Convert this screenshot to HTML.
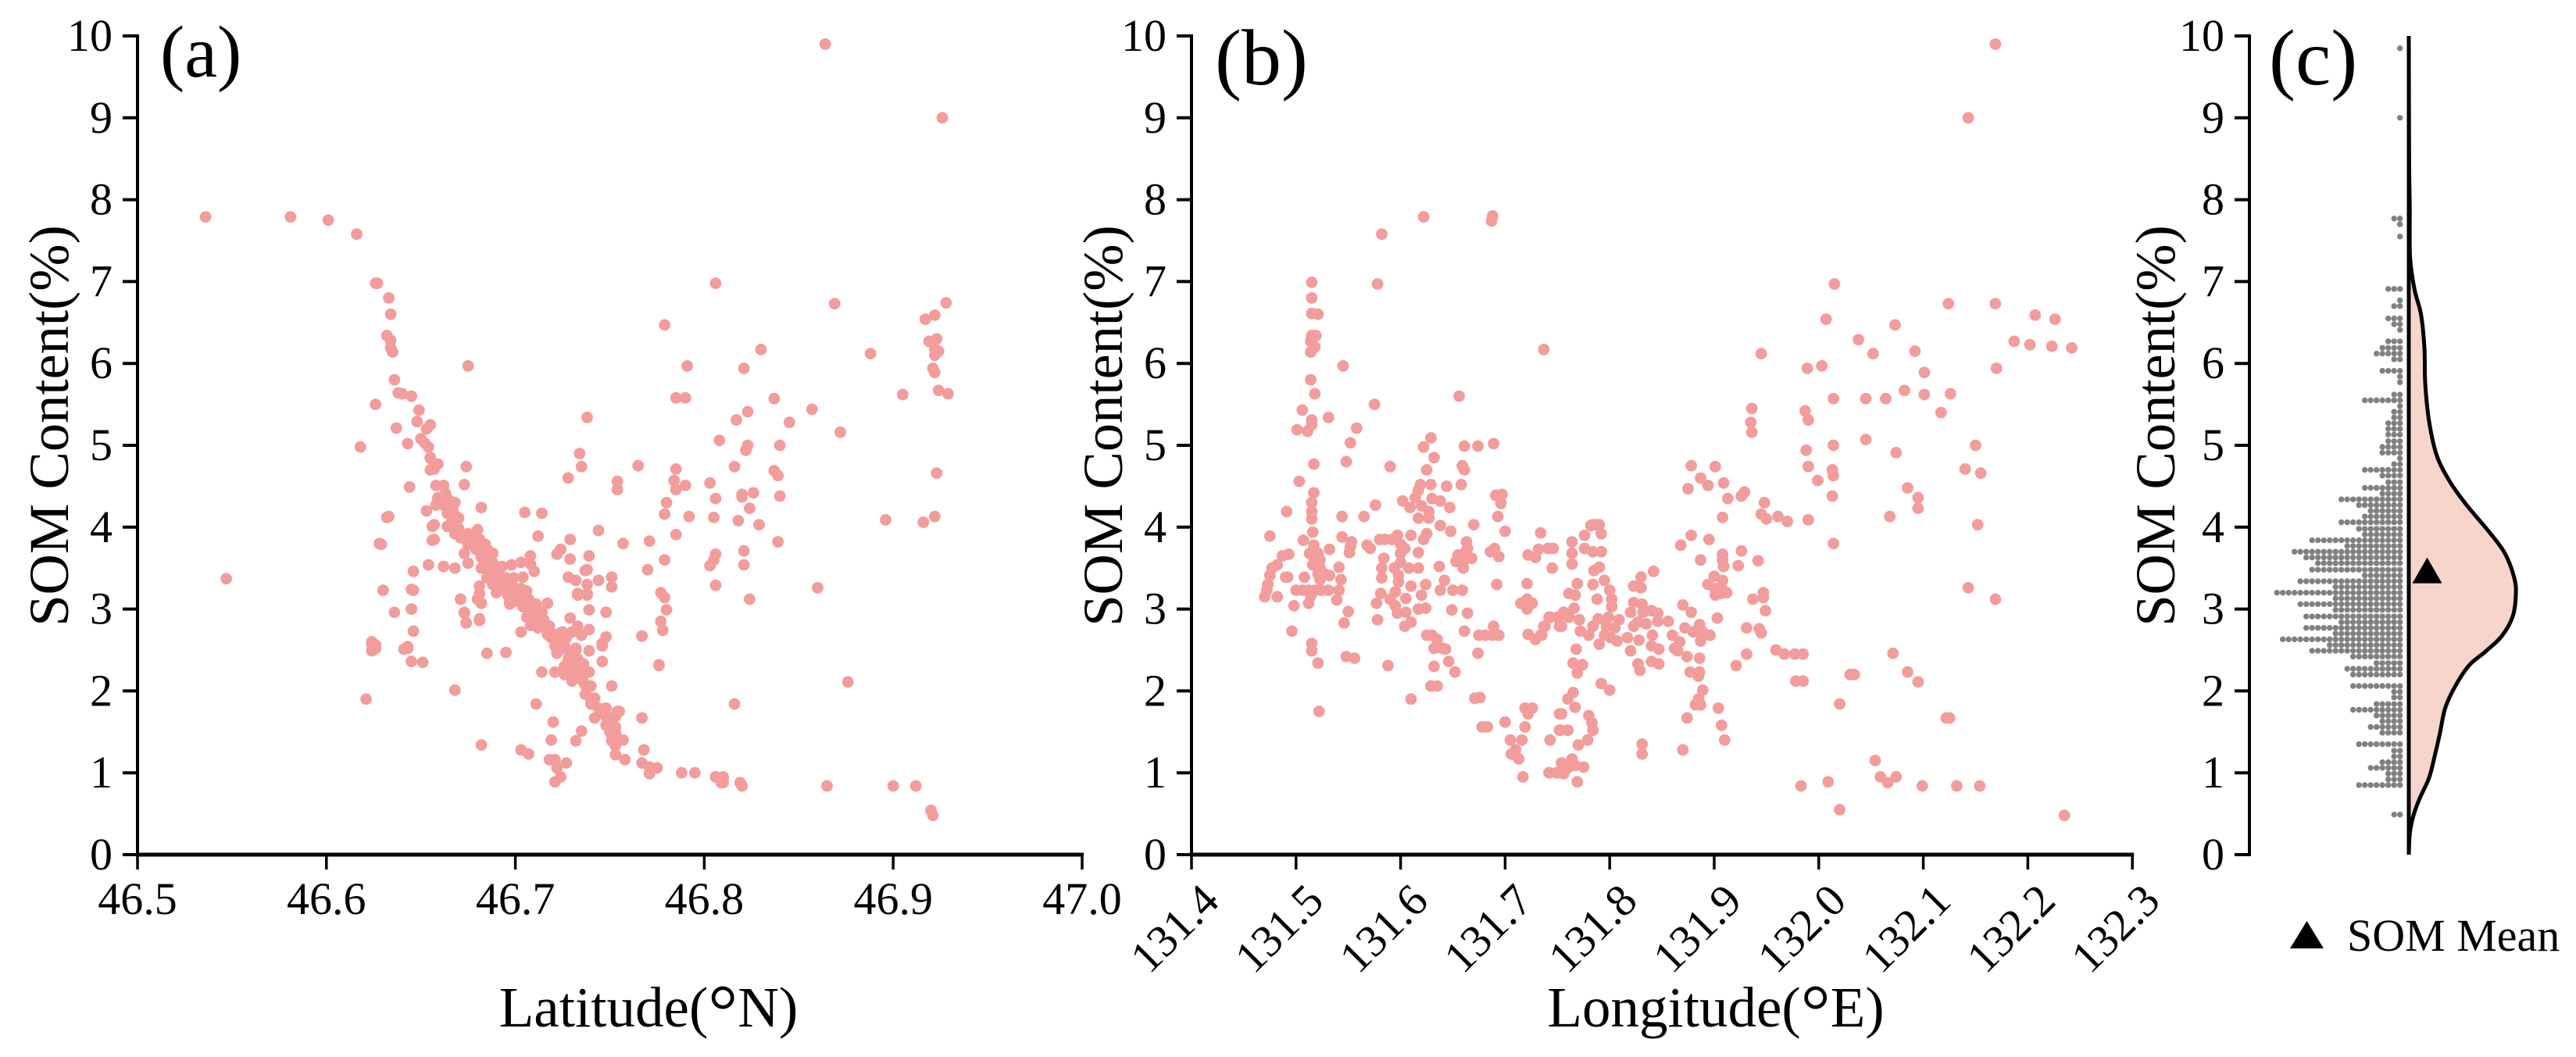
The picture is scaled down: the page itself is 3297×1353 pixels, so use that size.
<!DOCTYPE html>
<html lang="en">
<head>
<meta charset="utf-8">
<title>SOM Content vs Latitude and Longitude</title>
<style>
html,body{margin:0;padding:0;background:#fff;}
svg{display:block;}
text{font-family:"Liberation Serif","Times New Roman",serif;fill:#000;}
</style>
</head>
<body>
<svg id="chart" xmlns="http://www.w3.org/2000/svg" width="3297" height="1353" viewBox="0 0 3297 1353">
<rect width="3297" height="1353" fill="#ffffff"/>
</svg>
<script>
const somTicks = [0,1,2,3,4,5,6,7,8,9,10];
const latTicks = [46.5,46.6,46.7,46.8,46.9,47.0];
const lonTicks = [131.4,131.5,131.6,131.7,131.8,131.9,132.0,132.1,132.2,132.3];
const latSomPoints = [[46.864,9.9],[46.926,9],[46.536,7.79],[46.581,7.79],[46.601,7.75],[46.616,7.58],[46.626,6.98],[46.627,6.98],[46.633,6.8],[46.634,6.6],[46.632,6.34],[46.634,6.28],[46.634,6.19],[46.635,6.14],[46.636,5.8],[46.638,5.64],[46.64,5.63],[46.645,5.6],[46.626,5.5],[46.649,5.43],[46.648,5.29],[46.655,5.25],[46.637,5.21],[46.653,5.2],[46.65,5.08],[46.643,5.02],[46.652,5.03],[46.654,4.98],[46.618,4.98],[46.675,5.97],[46.655,4.85],[46.659,4.77],[46.674,4.74],[46.657,4.71],[46.655,4.7],[46.644,4.49],[46.658,4.51],[46.662,4.51],[46.673,4.52],[46.682,4.24],[46.653,4.2],[46.633,4.13],[46.657,4.03],[46.655,4.84],[46.663,4.41],[46.659,4.36],[46.658,4.27],[46.662,4.27],[46.665,4.33],[46.668,4.3],[46.664,4.17],[46.669,4.125],[46.667,4.08],[46.656,4.01],[46.632,4.12],[46.664,4.01],[46.68,3.97],[46.67,3.98],[46.668,3.92],[46.675,3.92],[46.671,3.87],[46.677,3.87],[46.681,3.855],[46.656,3.84],[46.629,3.79],[46.675,3.79],[46.682,3.76],[46.679,3.73],[46.685,3.73],[46.688,3.68],[46.673,3.68],[46.682,3.63],[46.686,3.6],[46.675,3.56],[46.698,3.54],[46.703,3.57],[46.708,3.65],[46.708,3.55],[46.693,3.52],[46.654,3.54],[46.662,3.52],[46.668,3.5],[46.682,3.5],[46.688,3.5],[46.71,3.46],[46.704,3.39],[46.646,3.46],[46.691,3.44],[46.685,3.38],[46.695,3.38],[46.699,3.38],[46.681,3.28],[46.688,3.3],[46.693,3.28],[46.697,3.25],[46.703,3.25],[46.706,3.22],[46.646,3.23],[46.63,3.23],[46.681,3.19],[46.69,3.2],[46.696,3.17],[46.701,3.155],[46.707,3.12],[46.671,3.12],[46.68,3.12],[46.682,3.07],[46.699,3.09],[46.717,3.07],[46.711,3.06],[46.697,3.06],[46.704,3.03],[46.739,2.99],[46.645,3],[46.636,2.96],[46.708,2.96],[46.714,2.96],[46.673,2.95],[46.729,2.89],[46.748,2.96],[46.706,2.9],[46.711,2.87],[46.681,2.86],[46.674,2.83],[46.708,2.8],[46.714,2.82],[46.718,2.79],[46.733,2.79],[46.646,2.73],[46.703,2.72],[46.725,2.72],[46.73,2.72],[46.739,2.75],[46.735,2.68],[46.717,2.69],[46.748,2.66],[46.722,2.63],[46.727,2.65],[46.721,2.55],[46.726,2.55],[46.732,2.52],[46.739,2.49],[46.746,2.55],[46.642,2.52],[46.643,2.54],[46.626,2.56],[46.626,2.52],[46.685,2.46],[46.695,2.47],[46.722,2.49],[46.729,2.47],[46.734,4.9],[46.735,4.74],[46.728,4.6],[46.744,3.96],[46.729,3.85],[46.712,3.89],[46.705,4.18],[46.714,4.17],[46.724,3.73],[46.722,3.67],[46.729,3.61],[46.739,3.65],[46.737,3.47],[46.744,3.35],[46.728,3.39],[46.732,3.35],[46.738,3.3],[46.733,3.19],[46.738,3.19],[46.746,2.58],[46.746,2.36],[46.716,2.77],[46.719,2.68],[46.724,2.71],[46.725,2.61],[46.722,2.46],[46.726,2.52],[46.732,2.5],[46.728,2.39],[46.733,2.39],[46.736,2.33],[46.726,2.3],[46.731,2.3],[46.739,2.23],[46.721,2.23],[46.714,2.23],[46.726,2.2],[46.73,2.12],[46.735,2.17],[46.737,2.07],[46.74,2.06],[46.737,1.96],[46.742,1.91],[46.74,1.84],[46.748,1.79],[46.751,2.06],[46.755,1.75],[46.711,1.84],[46.742,1.67],[46.747,1.72],[46.753,1.69],[46.767,1.67],[46.748,1.58],[46.753,1.56],[46.75,1.5],[46.753,1.49],[46.72,1.62],[46.735,1.51],[46.732,1.39],[46.719,1.4],[46.751,1.39],[46.757,1.4],[46.753,1.33],[46.753,1.22],[46.758,1.16],[46.768,1.28],[46.703,1.28],[46.707,1.23],[46.718,1.16],[46.721,1.16],[46.727,1.12],[46.722,1.06],[46.767,1.12],[46.771,1.07],[46.775,1.06],[46.771,0.99],[46.724,0.95],[46.721,0.89],[46.788,1],[46.795,1],[46.806,0.95],[46.81,0.95],[46.809,0.88],[46.82,0.84],[46.819,0.88],[46.779,3.14],[46.78,2.99],[46.777,2.85],[46.778,2.74],[46.767,2.67],[46.776,2.31],[46.733,3.17],[46.738,3.17],[46.806,6.98],[46.779,6.47],[46.869,6.73],[46.928,6.74],[46.917,6.54],[46.922,6.59],[46.923,6.3],[46.919,6.27],[46.922,6.18],[46.924,6.15],[46.922,6.1],[46.888,6.12],[46.83,6.17],[46.791,5.97],[46.821,5.94],[46.921,5.94],[46.922,5.89],[46.785,5.58],[46.79,5.58],[46.837,5.57],[46.905,5.62],[46.924,5.67],[46.929,5.63],[46.857,5.44],[46.823,5.41],[46.817,5.31],[46.738,5.34],[46.845,5.28],[46.872,5.16],[46.808,5.06],[46.823,5],[46.84,5],[46.822,4.94],[46.816,4.74],[46.923,4.66],[46.837,4.69],[46.839,4.63],[46.803,4.54],[46.785,4.71],[46.765,4.75],[46.754,4.56],[46.754,4.46],[46.784,4.57],[46.785,4.46],[46.79,4.51],[46.84,4.38],[46.826,4.42],[46.82,4.4],[46.82,4.37],[46.806,4.35],[46.78,4.3],[46.779,4.16],[46.824,4.23],[46.792,4.13],[46.805,4.12],[46.818,4.08],[46.829,4.03],[46.896,4.09],[46.916,4.06],[46.922,4.13],[46.785,3.91],[46.771,3.83],[46.757,3.8],[46.839,3.82],[46.821,3.71],[46.806,3.67],[46.805,3.6],[46.803,3.53],[46.821,3.54],[46.779,3.6],[46.77,3.48],[46.738,3.48],[46.751,3.39],[46.751,3.27],[46.806,3.29],[46.86,3.26],[46.824,3.12],[46.777,3.2],[46.767,2.67],[46.876,2.11],[46.816,1.84],[46.776,2.32],[46.754,1.75],[46.768,1.28],[46.682,1.34],[46.621,1.9],[46.668,2.01],[46.547,3.37],[46.628,3.8],[46.657,3.85],[46.645,3.24],[46.645,3],[46.671,3.12],[46.673,2.96],[46.681,2.88],[46.624,2.6],[46.624,2.57],[46.624,2.49],[46.641,2.51],[46.643,2.52],[46.645,2.36],[46.651,2.35],[46.865,0.84],[46.9,0.84],[46.912,0.84],[46.92,0.54],[46.921,0.48],[46.806,0.95],[46.81,0.94],[46.81,0.88],[46.659,4.33],[46.662,4.36],[46.664,4.27],[46.667,4.2],[46.67,4.11],[46.666,4.05],[46.668,3.95],[46.673,3.89],[46.677,3.89],[46.68,3.79],[46.684,3.79],[46.681,3.7],[46.685,3.66],[46.684,3.57],[46.688,3.57],[46.686,3.44],[46.69,3.35],[46.693,3.38],[46.696,3.31],[46.7,3.25],[46.695,3.22],[46.699,3.15],[46.703,3.12],[46.708,3.03],[46.707,2.93],[46.71,2.87],[46.715,2.87],[46.712,2.77],[46.719,2.71],[46.724,2.65],[46.725,2.52],[46.722,2.46],[46.697,3.09],[46.704,3.03],[46.71,3],[46.707,2.9],[46.713,2.87],[46.711,2.81],[46.719,2.65],[46.724,2.61],[46.722,2.49],[46.729,2.33],[46.728,2.23],[46.735,2.3],[46.732,2.2],[46.736,2.11],[46.74,1.91],[46.744,1.79],[46.748,1.69],[46.751,1.6],[46.751,1.47],[46.754,1.41]];
const lonSomPoints = [[132.169,9.9],[132.143,9],[131.622,7.79],[131.688,7.8],[131.687,7.74],[131.582,7.58],[131.578,6.97],[131.515,6.99],[131.515,6.8],[131.515,6.61],[131.521,6.6],[132.015,6.97],[132.124,6.73],[132.169,6.73],[132.207,6.59],[132.226,6.54],[132.007,6.54],[132.073,6.47],[132.038,6.29],[132.187,6.27],[132.202,6.23],[132.223,6.21],[132.242,6.19],[132.052,6.12],[132.092,6.15],[131.945,6.12],[131.737,6.17],[131.515,6.34],[131.519,6.34],[131.514,6.27],[131.518,6.2],[131.514,6.14],[131.545,5.97],[131.989,5.94],[132.003,5.97],[132.17,5.94],[132.101,5.89],[131.514,5.8],[131.518,5.63],[131.656,5.6],[131.575,5.5],[132.014,5.57],[132.045,5.57],[132.064,5.57],[132.082,5.67],[132.101,5.62],[132.126,5.63],[132.117,5.4],[131.506,5.43],[131.531,5.34],[131.515,5.31],[131.515,5.25],[131.501,5.19],[131.511,5.17],[131.558,5.21],[131.552,5.03],[131.622,4.98],[131.629,5.09],[131.661,4.99],[131.674,4.99],[131.689,5.02],[131.936,5.45],[131.935,5.28],[131.936,5.16],[131.987,5.42],[131.99,5.31],[132.045,5.07],[132.014,5],[131.988,4.94],[132.074,4.91],[132.15,5],[131.632,4.85],[131.548,4.8],[131.517,4.77],[131.59,4.74],[131.659,4.75],[131.661,4.7],[131.625,4.7],[131.878,4.75],[131.901,4.74],[131.99,4.74],[132.013,4.7],[132.014,4.63],[132.14,4.71],[132.155,4.66],[131.887,4.6],[131.909,4.54],[131.894,4.51],[131.999,4.57],[131.875,4.47],[131.503,4.56],[131.629,4.52],[131.619,4.52],[131.644,4.5],[131.658,4.52],[132.085,4.48],[131.929,4.43],[131.926,4.38],[132.013,4.38],[131.913,4.35],[132.095,4.36],[132.095,4.23],[131.517,4.42],[131.617,4.45],[131.614,4.36],[131.691,4.39],[131.697,4.4],[131.696,4.29],[131.602,4.32],[131.63,4.35],[131.638,4.32],[131.515,4.3],[131.515,4.19],[131.515,4.1],[131.609,4.24],[131.62,4.26],[131.647,4.24],[131.576,4.27],[131.627,4.19],[131.491,4.19],[131.544,4.13],[131.565,4.13],[131.693,4.13],[132.068,4.13],[131.948,4.3],[131.945,4.16],[131.95,4.1],[131.961,4.13],[131.97,4.07],[131.99,4.09],[131.908,4.12],[132.152,4.03],[131.617,4.11],[131.627,4.11],[131.784,4.03],[131.79,4.03],[131.67,4.03],[131.638,4.02],[131.7,3.95],[131.648,3.95],[131.516,3.94],[131.475,3.89],[131.507,3.84],[131.544,3.88],[131.553,3.82],[131.551,3.69],[131.552,3.76],[131.517,3.78],[131.532,3.73],[131.568,3.78],[131.571,3.74],[131.58,3.85],[131.585,3.85],[131.592,3.85],[131.597,3.9],[131.6,3.79],[131.604,3.74],[131.6,3.68],[131.61,3.9],[131.622,3.85],[131.625,3.92],[131.617,3.69],[131.663,3.82],[131.664,3.74],[131.655,3.66],[131.661,3.68],[131.668,3.62],[131.653,3.58],[131.66,3.58],[131.66,3.5],[131.69,3.74],[131.686,3.7],[131.694,3.64],[131.734,3.93],[131.722,3.66],[131.729,3.63],[131.732,3.73],[131.741,3.74],[131.746,3.74],[131.745,3.5],[131.493,3.67],[131.487,3.65],[131.482,3.54],[131.477,3.5],[131.475,3.41],[131.473,3.3],[131.472,3.23],[131.47,3.15],[131.482,3.15],[131.49,3.39],[131.492,3.39],[131.513,3.68],[131.521,3.68],[131.517,3.62],[131.523,3.6],[131.516,3.54],[131.523,3.5],[131.521,3.43],[131.527,3.43],[131.532,3.41],[131.523,3.36],[131.508,3.39],[131.541,3.51],[131.543,3.36],[131.5,3.23],[131.506,3.23],[131.512,3.23],[131.518,3.23],[131.524,3.23],[131.531,3.23],[131.541,3.23],[131.514,3.16],[131.512,3.07],[131.539,3.11],[131.498,3.04],[131.55,2.97],[131.546,2.83],[131.496,2.73],[131.515,2.58],[131.515,2.49],[131.521,2.34],[131.548,2.42],[131.556,2.4],[131.588,2.31],[131.522,1.75],[131.584,3.62],[131.582,3.5],[131.582,3.38],[131.6,3.57],[131.594,3.5],[131.608,3.5],[131.617,3.5],[131.598,3.41],[131.598,3.33],[131.637,3.52],[131.61,3.28],[131.624,3.3],[131.62,3.17],[131.642,3.35],[131.638,3.23],[131.65,3.23],[131.659,3.23],[131.692,3.3],[131.721,3.31],[131.715,3.07],[131.721,3.12],[131.726,3.07],[131.721,3],[131.581,3.19],[131.577,3.07],[131.595,3.21],[131.59,3.12],[131.595,3.04],[131.605,3.13],[131.597,2.95],[131.605,2.96],[131.617,3],[131.624,3.01],[131.649,2.99],[131.664,2.95],[131.578,2.87],[131.604,2.79],[131.61,2.84],[131.625,2.68],[131.63,2.68],[131.635,2.63],[131.632,2.52],[131.64,2.52],[131.643,2.51],[131.646,2.36],[131.632,2.3],[131.652,2.23],[131.629,2.06],[131.635,2.06],[131.61,1.9],[131.661,2.73],[131.675,2.68],[131.681,2.68],[131.688,2.68],[131.694,2.68],[131.689,2.79],[131.674,2.46],[131.671,1.91],[131.676,1.92],[131.722,2.69],[131.729,2.63],[131.735,2.68],[131.737,2.79],[131.742,2.9],[131.751,2.9],[131.752,2.79],[131.719,1.79],[131.726,1.79],[131.722,1.72],[131.7,1.62],[131.678,1.56],[131.683,1.56],[131.719,1.56],[131.705,1.4],[131.716,1.4],[131.743,1.4],[131.752,1.52],[131.752,1.72],[131.71,1.28],[131.706,1.23],[131.713,1.17],[131.717,0.95],[131.742,1],[131.75,1],[131.754,1.12],[132.014,3.8],[131.878,3.9],[131.868,3.78],[131.895,3.85],[131.887,3.6],[131.908,3.67],[131.908,3.6],[131.909,3.52],[131.926,3.71],[131.923,3.53],[131.942,3.59],[131.842,3.46],[131.83,3.39],[131.823,3.28],[131.83,3.26],[131.9,3.4],[131.894,3.3],[131.908,3.35],[131.901,3.25],[131.907,3.25],[131.912,3.2],[131.901,3.17],[131.906,3.19],[131.947,3.2],[131.947,3.14],[131.937,3.12],[131.949,2.98],[131.931,2.77],[131.943,2.76],[131.945,2.71],[131.903,2.89],[131.87,3.05],[131.878,2.96],[131.872,2.77],[131.886,2.81],[131.88,2.72],[131.889,2.72],[131.896,2.68],[131.887,2.61],[131.86,2.68],[131.867,2.6],[131.862,2.52],[131.865,2.49],[131.874,2.42],[131.886,2.4],[131.931,2.45],[131.921,2.31],[131.959,2.5],[131.967,2.45],[131.977,2.45],[131.985,2.45],[131.877,2.23],[131.886,2.23],[131.885,2.18],[131.978,2.12],[131.985,2.12],[131.889,2.01],[131.885,1.9],[131.882,1.83],[131.887,1.83],[131.904,1.79],[132.02,1.84],[131.874,1.67],[131.907,1.58],[131.91,1.4],[132.03,2.2],[132.034,2.2],[131.831,1.35],[131.831,1.23],[131.87,1.28],[131.983,0.84],[132.009,0.89],[132.02,0.55],[131.782,4.02],[131.787,4.03],[131.776,3.9],[131.792,3.92],[131.764,3.82],[131.764,3.68],[131.764,3.55],[131.776,3.74],[131.784,3.7],[131.792,3.7],[131.785,3.47],[131.79,3.51],[131.769,3.31],[131.784,3.3],[131.795,3.35],[131.8,3.23],[131.761,3.19],[131.767,3.17],[131.788,3.12],[131.802,3.12],[131.802,3.03],[131.766,3.01],[131.756,2.96],[131.761,2.9],[131.75,2.9],[131.743,2.9],[131.754,2.79],[131.771,2.87],[131.738,2.79],[131.734,2.68],[131.729,2.63],[131.772,2.73],[131.78,2.68],[131.784,2.79],[131.789,2.88],[131.799,2.9],[131.809,2.87],[131.797,2.79],[131.805,2.77],[131.795,2.68],[131.801,2.65],[131.79,2.57],[131.807,2.61],[131.817,2.65],[131.823,2.79],[131.82,2.96],[131.823,3.08],[131.831,3.06],[131.832,2.96],[131.84,2.98],[131.846,2.95],[131.827,2.84],[131.835,2.82],[131.846,2.85],[131.856,2.85],[131.828,2.62],[131.841,2.68],[131.84,2.55],[131.847,2.51],[131.82,2.49],[131.827,2.33],[131.829,2.25],[131.84,2.36],[131.847,2.33],[131.768,2.51],[131.765,2.34],[131.774,2.32],[131.769,2.22],[131.792,2.09],[131.8,2.01],[131.765,1.98],[131.76,1.9],[131.767,1.8],[131.754,1.72],[131.78,1.7],[131.783,1.61],[131.784,1.52],[131.753,1.52],[131.76,1.52],[131.779,1.4],[131.77,1.34],[131.754,1.12],[131.764,1.17],[131.767,1.09],[131.775,1.07],[131.76,1.06],[131.742,1],[131.749,1],[131.756,0.99],[131.769,0.89],[132.143,3.26],[132.169,3.12],[132.071,2.46],[132.085,2.23],[132.095,2.11],[132.125,1.67],[132.122,1.67],[132.054,1.15],[132.059,0.95],[132.074,0.95],[132.066,0.88],[132.099,0.84],[132.132,0.84],[132.154,0.84],[132.235,0.48]];
const dotRows = [[0.49,2],[0.85,8],[0.92,3],[0.99,3],[1.06,6],[1.13,4],[1.2,2],[1.27,2],[1.35,8],[1.49,4],[1.56,6],[1.63,4],[1.7,5],[1.77,9],[1.84,5],[1.92,2],[1.99,2],[2.06,9],[2.2,9],[2.27,10],[2.34,5],[2.42,9],[2.49,16],[2.56,13],[2.63,21],[2.7,12],[2.77,17],[2.84,11],[2.91,17],[2.99,12],[3.06,18],[3.13,12],[3.2,22],[3.27,12],[3.34,18],[3.41,7],[3.48,16],[3.56,15],[3.63,17],[3.7,19],[3.77,10],[3.84,16],[3.91,7],[3.98,8],[4.06,11],[4.13,7],[4.2,6],[4.27,8],[4.34,11],[4.41,4],[4.48,7],[4.55,3],[4.63,4],[4.7,7],[4.77,2],[4.84,1],[4.91,4],[4.98,4],[5.05,3],[5.13,3],[5.2,3],[5.27,3],[5.34,2],[5.41,2],[5.48,1],[5.55,7],[5.62,2],[5.77,1],[5.84,1],[5.91,4],[6.05,2],[6.12,5],[6.19,4],[6.27,3],[6.41,1],[6.48,2],[6.55,3],[6.7,2],[6.77,1],[6.91,3],[7.55,1],[7.7,1],[7.77,2],[9,1],[9.85,1]];
const densityCurve = [[0,0],[0.25,0.003],[0.46,0.0135],[0.68,0.034],[0.94,0.065],[1.24,0.085],[1.49,0.1],[1.79,0.1165],[2.05,0.1475],[2.31,0.1925],[2.48,0.245],[2.67,0.2975],[2.91,0.3325],[3.17,0.3425],[3.38,0.3375],[3.68,0.3075],[3.94,0.2575],[4.27,0.185],[4.55,0.1325],[4.87,0.09],[5.29,0.065],[5.76,0.0525],[6.19,0.05],[6.6,0.039],[6.9,0.0185],[7.3,0.004],[7.9,0.003],[8.5,0.001],[10,0]];
const somMean = 3.41;

const svg = document.getElementById('chart');
const NS = 'http://www.w3.org/2000/svg';
function mk(tag, attrs, parent) {
  const el = document.createElementNS(NS, tag);
  for (const k in attrs) el.setAttribute(k, attrs[k]);
  (parent || svg).appendChild(el);
  return el;
}
function yScale(v) { return 1094 - v * 104.8; }
function latScale(v) { return 176 + (v - 46.5) * 2418; }
function lonScale(v) { return 1525 + (v - 131.4) * 1338; }
function densityScale(d) { return 3083 + d * 400; }
const DOT = '#f29c9c';

function drawYAxis(group, axisX) {
  const line = mk('line', {x1: axisX, x2: axisX, y1: yScale(10) - 2, y2: yScale(0) + 2, stroke: '#000', 'stroke-width': 4}, group);
  
  
  somTicks.forEach(function (t) {
    const tick = mk('line', {x1: axisX - 19, x2: axisX, y1: yScale(t), y2: yScale(t), stroke: '#000', 'stroke-width': 4}, group);
    
    
    const label = mk('text', {x: axisX - 32, y: yScale(t) + 19, 'text-anchor': 'end', 'font-size': 58}, group);
    
    
    label.textContent = String(t);
  });
}
function drawYTitle(group, bx) {
  const title = mk('text', {transform: 'translate(' + bx + ',545) rotate(-90)', 'text-anchor': 'middle', 'font-size': 72.5}, group);
  
  
  title.textContent = 'SOM Content(%)';
}
function drawPanelLabel(group, txt, x, y, size) {
  const t = mk('text', {x: x, y: y, 'font-size': size}, group);
  
  
  t.textContent = txt;
}
function drawPoints(group, pts, xs) {
  pts.forEach(function (p) {
    const c = mk('circle', {cx: xs(p[0]), cy: yScale(p[1]), r: 7.4, fill: DOT}, group);
    
    
  });
}
function drawXTitle(group, x, before, after) {
  const t = mk('text', {x: x, y: 1314, 'text-anchor': 'middle', 'font-size': 73}, group);
  
  
  t.appendChild(document.createTextNode(before));
  const deg = mk('tspan', {'font-size': 95, dy: 12}, t);
  deg.textContent = '°';
  const rest = mk('tspan', {dy: -12}, t);
  rest.textContent = after;
}

/* panel a */
const panelA = mk('g', {});


drawPoints(panelA, latSomPoints, latScale);
drawYAxis(panelA, 176);
const axisA = mk('line', {x1: 174, x2: latScale(47) + 2, y1: 1094, y2: 1094, stroke: '#000', 'stroke-width': 5}, panelA);


latTicks.forEach(function (t) {
  const tick = mk('line', {x1: latScale(t), x2: latScale(t), y1: 1094, y2: 1113, stroke: '#000', 'stroke-width': 3.5}, panelA);
  
  
  const label = mk('text', {x: latScale(t), y: 1170, 'text-anchor': 'middle', 'font-size': 58}, panelA);
  
  
  label.textContent = t.toFixed(1);
});
drawXTitle(panelA, 830, 'Latitude(', 'N)');
drawYTitle(panelA, 87);
drawPanelLabel(panelA, '(a)', 205, 98, 94);

/* panel b */
const panelB = mk('g', {});


drawPoints(panelB, lonSomPoints, lonScale);
drawYAxis(panelB, 1525);
const axisB = mk('line', {x1: 1523, x2: lonScale(132.3) + 2, y1: 1094, y2: 1094, stroke: '#000', 'stroke-width': 5}, panelB);


lonTicks.forEach(function (t) {
  const tick = mk('line', {x1: lonScale(t), x2: lonScale(t), y1: 1094, y2: 1113, stroke: '#000', 'stroke-width': 3.5}, panelB);
  
  
  const label = mk('text', {transform: 'translate(' + (lonScale(t) + 38) + ',1156) rotate(-45)', 'text-anchor': 'end', 'font-size': 58}, panelB);
  
  
  label.textContent = t.toFixed(1);
});
drawXTitle(panelB, 2196, 'Longitude(', 'E)');
drawYTitle(panelB, 1436);
drawPanelLabel(panelB, '(b)', 1555, 108, 102);

/* panel c */
const panelC = mk('g', {});


drawYAxis(panelC, 2879);
drawYTitle(panelC, 2783);
drawPanelLabel(panelC, '(c)', 2904, 108, 102);

dotRows.forEach(function (row) {
  for (let k = 0; k < row[1]; k++) {
    const d = mk('circle', {cx: 3071.7 - k * 7.5, cy: yScale(row[0]), r: 3.7, fill: '#808080'}, panelC);
    
    
  }
});

const curvePts = densityCurve.map(function (p) { return [densityScale(p[1]), yScale(p[0])]; });
let curvePath = 'M' + curvePts[0][0] + ' ' + curvePts[0][1];
for (let i = 0; i < curvePts.length - 1; i++) {
  const p0 = curvePts[Math.max(0, i - 1)], p1 = curvePts[i], p2 = curvePts[i + 1], p3 = curvePts[Math.min(curvePts.length - 1, i + 2)];
  curvePath += ' C' + (p1[0] + (p2[0] - p0[0]) / 6).toFixed(2) + ' ' + (p1[1] + (p2[1] - p0[1]) / 6).toFixed(2) + ' ' +
    (p2[0] - (p3[0] - p1[0]) / 6).toFixed(2) + ' ' + (p2[1] - (p3[1] - p1[1]) / 6).toFixed(2) + ' ' + p2[0].toFixed(2) + ' ' + p2[1].toFixed(2);
}
const violin = mk('path', {d: curvePath + ' Z', fill: '#f8d5cb', stroke: 'none'}, panelC);


const violinLine = mk('path', {d: curvePath, fill: 'none', stroke: '#000', 'stroke-width': 5}, panelC);


const baseLine = mk('line', {x1: densityScale(0), x2: densityScale(0), y1: yScale(10), y2: yScale(0), stroke: '#000', 'stroke-width': 5}, panelC);



const mx = 3106.5, my = yScale(somMean);
const meanMark = mk('polygon', {points: (mx - 19) + ',' + (my + 10) + ' ' + (mx + 19) + ',' + (my + 10) + ' ' + mx + ',' + (my - 23), fill: '#000'}, panelC);



const legendMark = mk('polygon', {points: '2931,1214 2974,1214 2952.5,1179', fill: '#000'}, panelC);


const legendText = mk('text', {x: 3004, y: 1217, 'font-size': 58}, panelC);


legendText.textContent = 'SOM Mean';
</script>
</body>
</html>
